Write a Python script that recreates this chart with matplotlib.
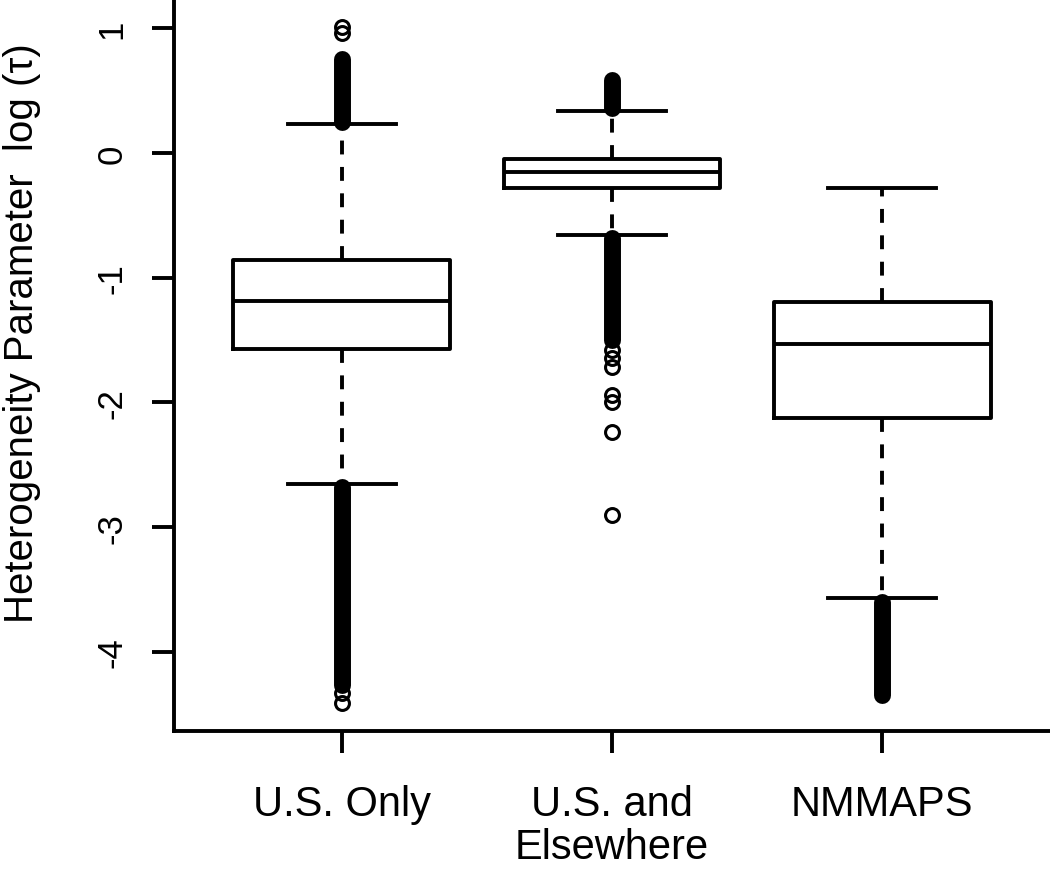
import matplotlib
matplotlib.use("Agg")
import matplotlib.pyplot as plt

plt.rcParams["font.family"] = ["Liberation Sans", "DejaVu Sans"]
plt.rcParams["axes.unicode_minus"] = False
plt.rcParams["lines.scale_dashes"] = False

GROUPS = ["U.S. Only", "U.S. and\nElsewhere", "NMMAPS"]
POSITIONS = [1, 2, 3]
MEDIANS = [-1.185, -0.155, -1.535]
Q1 = [-1.572, -0.283, -2.128]
Q3 = [-0.856, -0.048, -1.192]
WHISKER_LO = [-2.654, -0.658, -3.571]
WHISKER_HI = [0.233, 0.333, -0.283]

# outlier runs so dense they print as a solid column: (low, high) per run
DENSE_RUNS = [
    [(0.25, 0.75), (-4.27, -2.68)],
    [(0.36, 0.585), (-1.50, -0.68)],
    [(-4.35, -3.60)],
]
# outliers that are still visible as single circles
FLIERS = [
    [1.01, 0.96, -4.33, -4.41],
    [-1.58, -1.64, -1.72, -1.94, -2.00, -2.24, -2.90],
    [],
]

LW = 2.8

fig = plt.figure(figsize=(10.5, 8.7), dpi=100)
ax = fig.add_axes([174 / 1050, 138 / 870, 876 / 1050, 732 / 870])

stats = [
    dict(med=m, q1=a, q3=b, whislo=lo, whishi=hi, fliers=f, label=g)
    for g, m, a, b, lo, hi, f in zip(GROUPS, MEDIANS, Q1, Q3, WHISKER_LO, WHISKER_HI, FLIERS)
]
ax.bxp(
    stats, positions=POSITIONS, widths=0.8, showfliers=True,
    boxprops=dict(color="black", linewidth=LW, solid_joinstyle="round"),
    medianprops=dict(color="black", linewidth=LW),
    whiskerprops=dict(color="black", linewidth=LW, linestyle=(0, (10, 9))),
    capprops=dict(color="black", linewidth=LW),
    flierprops=dict(marker="o", markerfacecolor="none", markeredgecolor="black",
                    markersize=10, markeredgewidth=2.2),
)

for pos, runs in zip(POSITIONS, DENSE_RUNS):
    for lo, hi in runs:
        ax.vlines(pos, lo, hi, colors="black", linewidth=12.2, capstyle="round", zorder=3)

ax.set_xlim(0.38, 3.62)
ax.set_ylim(-4.635, 1.235)
ax.set_yticks([-4, -3, -2, -1, 0, 1])

for side in ("top", "right"):
    ax.spines[side].set_visible(False)
for side in ("left", "bottom"):
    ax.spines[side].set_linewidth(LW)

ax.tick_params(axis="both", direction="out", length=15.5, width=LW, color="black")
ax.tick_params(axis="x", labelsize=30, pad=23)
ax.tick_params(axis="y", labelsize=25, pad=17, labelrotation=90)
for lab in ax.get_yticklabels():
    lab.set_verticalalignment("center")
for lab in ax.get_xticklabels():
    lab.set_linespacing(1.08)

fig.text(33 / 1050, (870 - 333) / 870, "Heterogeneity Parameter  log (\u03c4)",
         rotation=90, rotation_mode="anchor", ha="center", va="baseline", fontsize=29)

fig.savefig("out.png", dpi=100)
